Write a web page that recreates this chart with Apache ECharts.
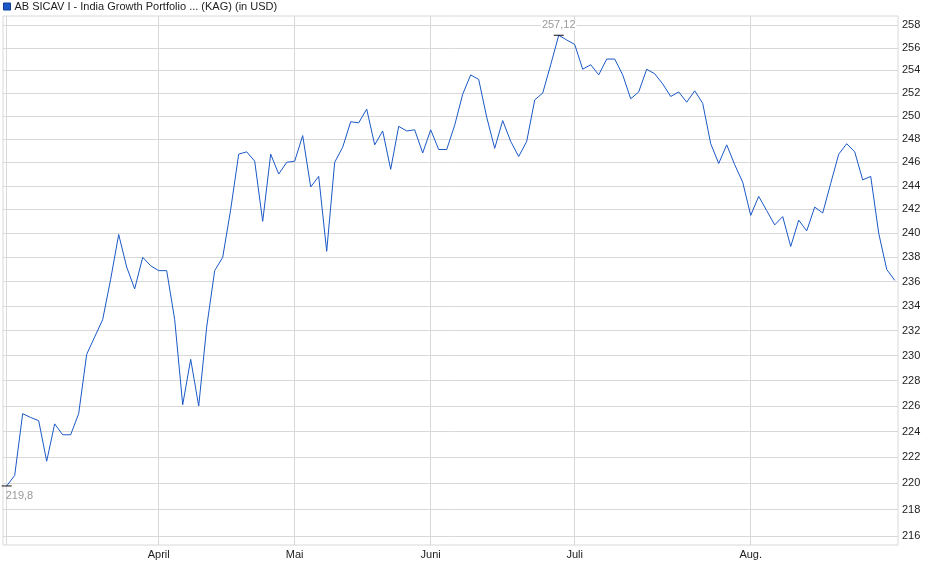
<!DOCTYPE html>
<html>
<head>
<meta charset="utf-8">
<script src="https://cdn.jsdelivr.net/npm/echarts@6/dist/echarts.min.js"></script>
<style>
  html, body { margin: 0; padding: 0; background: #fff; }
  #chart { width: 940px; height: 579px; }
</style>
</head>
<body>
<div id="chart"></div>
<script>
// Fondskurs, ein Wert pro Handelstag (Maerz bis Ende August)
const seriesName = 'AB SICAV I - India Growth Portfolio ... (KAG) (in USD)';
const prices = [
  219.8, 220.6, 225.4, 225.1, 224.85, 221.7, 224.6, 223.75, 223.75, 225.4,
  230.1, 231.5, 232.9, 236.2, 239.9, 237.2, 235.4, 238.0, 237.3, 236.9,
  236.9, 232.9, 226.1, 229.7, 226.0, 232.3, 236.9, 238.0, 242.0, 246.7,
  246.9, 246.1, 241.0, 246.7, 245.0, 246.0, 246.1, 248.3, 243.9, 244.8,
  238.5, 246.0, 247.3, 249.5, 249.4, 250.6, 247.5, 248.7, 245.4, 249.1,
  248.7, 248.8, 246.8, 248.8, 247.1, 247.1, 249.2, 251.9, 253.6, 253.2,
  249.9, 247.2, 249.6, 247.8, 246.5, 247.8, 251.4, 252.0, 254.5, 257.12,
  256.7, 256.3, 254.1, 254.5, 253.6, 255.0, 255.0, 253.6, 251.5, 252.1,
  254.1, 253.7, 252.8, 251.7, 252.1, 251.2, 252.2, 251.1, 247.6, 245.9,
  247.5, 245.8, 244.3, 241.5, 243.1, 241.9, 240.7, 241.4, 238.9, 241.1,
  240.2, 242.2, 241.7, 244.2, 246.7, 247.6, 246.9, 244.5, 244.8, 240.0,
  237.0, 236.1
];
// erster Handelstag je Monat (Index in prices)
const monthIdx = [19, 36, 53, 71, 93];
const monthNames = ['April', 'Mai', 'Juni', 'Juli', 'Aug.'];
const yTicks = [216, 218, 220, 222, 224, 226, 228, 230, 232, 234, 236, 238,
  240, 242, 244, 246, 248, 250, 252, 254, 256, 258];

const FONT = 'Liberation Sans, Arial, sans-serif';
const lineColor = '#1a58c6';

// logarithmische Skala: Werte werden als ln() aufgetragen
const ln = Math.log;
const points = prices.map((p, i) => [i, ln(p)]);

let maxI = 0, minI = 0;
prices.forEach((p, i) => {
  if (p > prices[maxI]) maxI = i;
  if (p < prices[minI]) minI = i;
});
const deNum = v => String(v).replace('.', ',');

const chart = echarts.init(document.getElementById('chart'), null, { renderer: 'canvas' });

const option = {
  animation: false,
  textStyle: { fontFamily: FONT },
  legend: {
    data: [seriesName],
    left: 1,
    top: 0,
    padding: [1, 2],
    icon: 'rect',
    itemWidth: 7,
    itemHeight: 7,
    itemStyle: { borderColor: '#0d3d99', borderWidth: 1 },
    textStyle: { fontSize: 11, color: '#222', fontFamily: FONT, padding: [0, 0, 0, -1] },
    selectedMode: false
  },
  grid: {
    left: 3,
    right: 42,
    top: 16,
    bottom: 34,
    show: true,
    borderColor: '#d8d8d8',
    borderWidth: 1,
    containLabel: false
  },
  xAxis: {
    type: 'value',
    min: -0.46,
    max: 111.41,
    axisLine: { show: false },
    axisTick: { show: false, customValues: [0].concat(monthIdx) },
    splitLine: { show: true, lineStyle: { color: '#d8d8d8', width: 1 } },
    axisLabel: {
      customValues: monthIdx,
      formatter: v => monthNames[monthIdx.indexOf(Math.round(v))] || '',
      fontSize: 11,
      color: '#222',
      fontFamily: FONT,
      margin: 4
    }
  },
  yAxis: {
    type: 'value',
    position: 'right',
    min: ln(215.33),
    max: ln(258.85),
    axisLine: { show: false },
    axisTick: { show: false, customValues: yTicks.map(ln) },
    splitLine: { show: true, lineStyle: { color: '#d8d8d8', width: 1 } },
    axisLabel: {
      customValues: yTicks.map(ln),
      formatter: v => String(Math.round(Math.exp(v))),
      fontSize: 11,
      color: '#222',
      fontFamily: FONT,
      margin: 4
    }
  },
  series: [{
    name: seriesName,
    type: 'line',
    data: points,
    showSymbol: false,
    symbol: 'none',
    color: lineColor,
    lineStyle: { color: lineColor, width: 1 },
    markPoint: {
      symbol: 'rect',
      symbolSize: [10, 1],
      itemStyle: { color: '#111' },
      silent: true,
      data: [
        {
          coord: [maxI, ln(prices[maxI])],
          label: {
            show: true,
            position: 'top',
            distance: 4,
            formatter: deNum(prices[maxI]),
            color: '#9a9a9a',
            fontSize: 11,
            fontFamily: FONT,
            backgroundColor: '#fff',
            padding: [0, 1]
          }
        },
        {
          coord: [minI, ln(prices[minI])],
          label: {
            show: true,
            position: 'bottom',
            distance: 4,
            align: 'left',
            offset: [-1, 0],
            formatter: deNum(prices[minI]),
            color: '#9a9a9a',
            fontSize: 11,
            fontFamily: FONT
          }
        }
      ]
    }
  }]
};

chart.setOption(option);
</script>
</body>
</html>
